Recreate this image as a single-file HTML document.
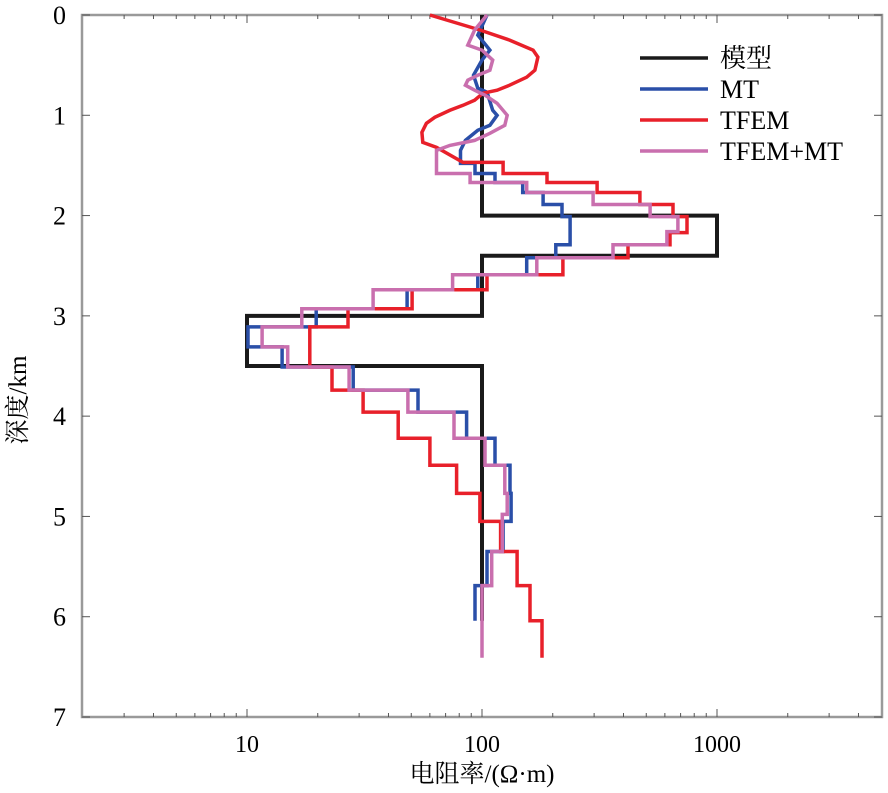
<!DOCTYPE html>
<html><head><meta charset="utf-8"><style>
html,body{margin:0;padding:0;background:#fff;}
svg{display:block;}
text{font-family:"Liberation Serif","DejaVu Serif","Noto Serif CJK SC",serif;}
</style></head><body>
<svg id="chart" width="888" height="793" viewBox="0 0 888 793" xmlns="http://www.w3.org/2000/svg">
<g id="axes"></g>
<g id="series"></g>
<g id="legend"></g>
<text x="482" y="782" font-size="25" text-anchor="middle">电阻率/(Ω·m)</text>
<text transform="translate(26,400) rotate(-90)" font-size="25" text-anchor="middle">深度/km</text>
</svg>
<script>
const xTicks = [10, 100, 1000];
const yTicks = [0, 1, 2, 3, 4, 5, 6, 7];
const seriesNames = ["模型", "MT", "TFEM", "TFEM+MT"];
const seriesColors = ["#1a1a1a", "#2a4fa8", "#e8202a", "#c96fae"];

// Model: step layers
const modelDepths = [0, 2, 2.4, 3, 3.5, 6.04];
const modelValues = [100, 1000, 100, 10, 100];

// MT
const mtUpperDepths = [0, 0.2, 0.35, 0.45, 0.6, 0.73, 0.77, 0.95, 1.0, 1.1, 1.15, 1.25, 1.35];
const mtUpperValues = [105, 96, 108, 100, 92, 96, 105, 111, 116, 108, 96, 85, 81];
const mtDepths = [1.35, 1.48, 1.58, 1.67, 1.77, 1.89, 2.01, 2.29, 2.42, 2.59, 2.74, 2.93, 3.11, 3.31, 3.51, 3.74, 3.96, 4.22, 4.49, 4.77, 5.05, 5.35, 5.69, 6.04];
const mtValues = [81, 93.4, 113.6, 149, 182, 219, 237, 206, 155, 96, 48, 19.7, 10.1, 14.1, 28.3, 53.4, 86, 113.6, 131.6, 133, 123, 105, 93.4];

// TFEM
const tfemUpperDepths = [0, 0.15, 0.25, 0.35, 0.42, 0.55, 0.62, 0.70, 0.75, 0.78, 0.85, 0.90, 0.95, 1.02, 1.08, 1.17, 1.27, 1.32, 1.47];
const tfemUpperValues = [60, 98, 131, 165, 173, 168, 155, 131, 116, 101, 93, 83, 73, 63, 58, 55.5, 56, 64, 83];
const tfemDepths = [1.47, 1.58, 1.67, 1.77, 1.89, 2.01, 2.17, 2.29, 2.42, 2.59, 2.74, 2.93, 3.11, 3.51, 3.74, 3.96, 4.22, 4.49, 4.77, 5.05, 5.35, 5.69, 6.04, 6.41];
const tfemValues = [123, 189, 309, 470, 650, 745, 631, 418, 221, 105, 50.4, 26.9, 18.5, 23, 31.2, 44, 60, 78, 98, 120, 141, 160, 180];

// TFEM+MT
const jointUpperDepths = [0, 0.15, 0.3, 0.35, 0.45, 0.55, 0.6, 0.65, 0.7, 0.75, 0.8, 0.88, 1.0, 1.1, 1.18, 1.25, 1.3, 1.35];
const jointUpperValues = [105, 93, 87, 100, 111, 108, 96, 87, 85, 93, 103, 116, 128, 125, 108, 93, 73, 64];
const jointDepths = [1.35, 1.58, 1.67, 1.77, 1.89, 2.01, 2.16, 2.29, 2.42, 2.59, 2.74, 2.93, 3.11, 3.31, 3.51, 3.74, 3.96, 4.22, 4.49, 4.77, 4.98, 5.35, 5.69, 6.41];
const jointValues = [64, 89, 155, 297, 519, 682, 612, 361, 171, 75, 34.4, 17.1, 11.6, 14.9, 27.2, 48.4, 76, 103, 125, 128, 122, 110, 100];

const L = 82, R = 882, T = 15, B = 717;
const X10 = 247, DEC = 235;
function xs(v) { return X10 + (Math.log10(v) - 1) * DEC; }
function ys(d) { return T + d * (B - T) / 7; }
const NS = "http://www.w3.org/2000/svg";
function mk(tag, parent, attrs) {
  const e = document.createElementNS(NS, tag);
  for (const k in attrs) e.setAttribute(k, attrs[k]);
  parent.appendChild(e);
  return e;
}
const axes = document.getElementById('axes');
const frame = mk('rect', axes, {x: L, y: T, width: R - L, height: B - T, fill: 'none', stroke: '#9a9a9a', 'stroke-width': 2.5});


for (let dec = 0; dec <= 3; dec++) {
  for (let m = 1; m <= 9; m++) {
    const v = m * Math.pow(10, dec);
    const x = xs(v);
    if (x <= L + 1 || x >= R - 1) continue;
    const len = m === 1 ? 8 : 4;
    const t1 = mk('line', axes, {x1: x, x2: x, y1: B, y2: B - len, stroke: '#555', 'stroke-width': 1});
    
    
    const t2 = mk('line', axes, {x1: x, x2: x, y1: T, y2: T + len, stroke: '#555', 'stroke-width': 1});
    
    
  }
}
xTicks.forEach(v => {
  const t = mk('text', axes, {x: xs(v), y: 752, 'font-size': 24, 'text-anchor': 'middle'});
  t.textContent = v;
  
  
});
yTicks.forEach(d => {
  const y = ys(d);
  const a = mk('line', axes, {x1: L, x2: L + 8, y1: y, y2: y, stroke: '#555', 'stroke-width': 1});
  
  
  const b = mk('line', axes, {x1: R, x2: R - 8, y1: y, y2: y, stroke: '#555', 'stroke-width': 1});
  
  
  const t = mk('text', axes, {x: 66, y: y + 9, 'font-size': 26, 'text-anchor': 'end'});
  t.textContent = d;
  
  
});

function buildPath(upD, upV, stD, stV) {
  const pts = [];
  for (let i = 0; i < upD.length; i++) pts.push([xs(upV[i]), ys(upD[i])]);
  for (let i = 0; i < stV.length; i++) {
    pts.push([xs(stV[i]), ys(stD[i])]);
    pts.push([xs(stV[i]), ys(stD[i + 1])]);
  }
  return 'M' + pts.map(p => p[0].toFixed(1) + ',' + p[1].toFixed(1)).join('L');
}
const sg = document.getElementById('series');
const p0 = mk('path', sg, {d: buildPath([], [], modelDepths, modelValues), fill: 'none', stroke: seriesColors[0], 'stroke-width': 4});


const p1 = mk('path', sg, {d: buildPath(mtUpperDepths, mtUpperValues, mtDepths, mtValues), fill: 'none', stroke: seriesColors[1], 'stroke-width': 3.5});


const p2 = mk('path', sg, {d: buildPath(tfemUpperDepths, tfemUpperValues, tfemDepths, tfemValues), fill: 'none', stroke: seriesColors[2], 'stroke-width': 3.5});


const p3 = mk('path', sg, {d: buildPath(jointUpperDepths, jointUpperValues, jointDepths, jointValues), fill: 'none', stroke: seriesColors[3], 'stroke-width': 3.5});



const lg = document.getElementById('legend');
seriesNames.forEach((n, i) => {
  const y = 58 + i * 31;
  const l = mk('line', lg, {x1: 640, x2: 708, y1: y, y2: y, stroke: seriesColors[i], 'stroke-width': 3.5});
  
  
  const t = mk('text', lg, {x: 720, y: y + 9, 'font-size': 26});
  t.textContent = n;
  
  
});
</script>
</body></html>
